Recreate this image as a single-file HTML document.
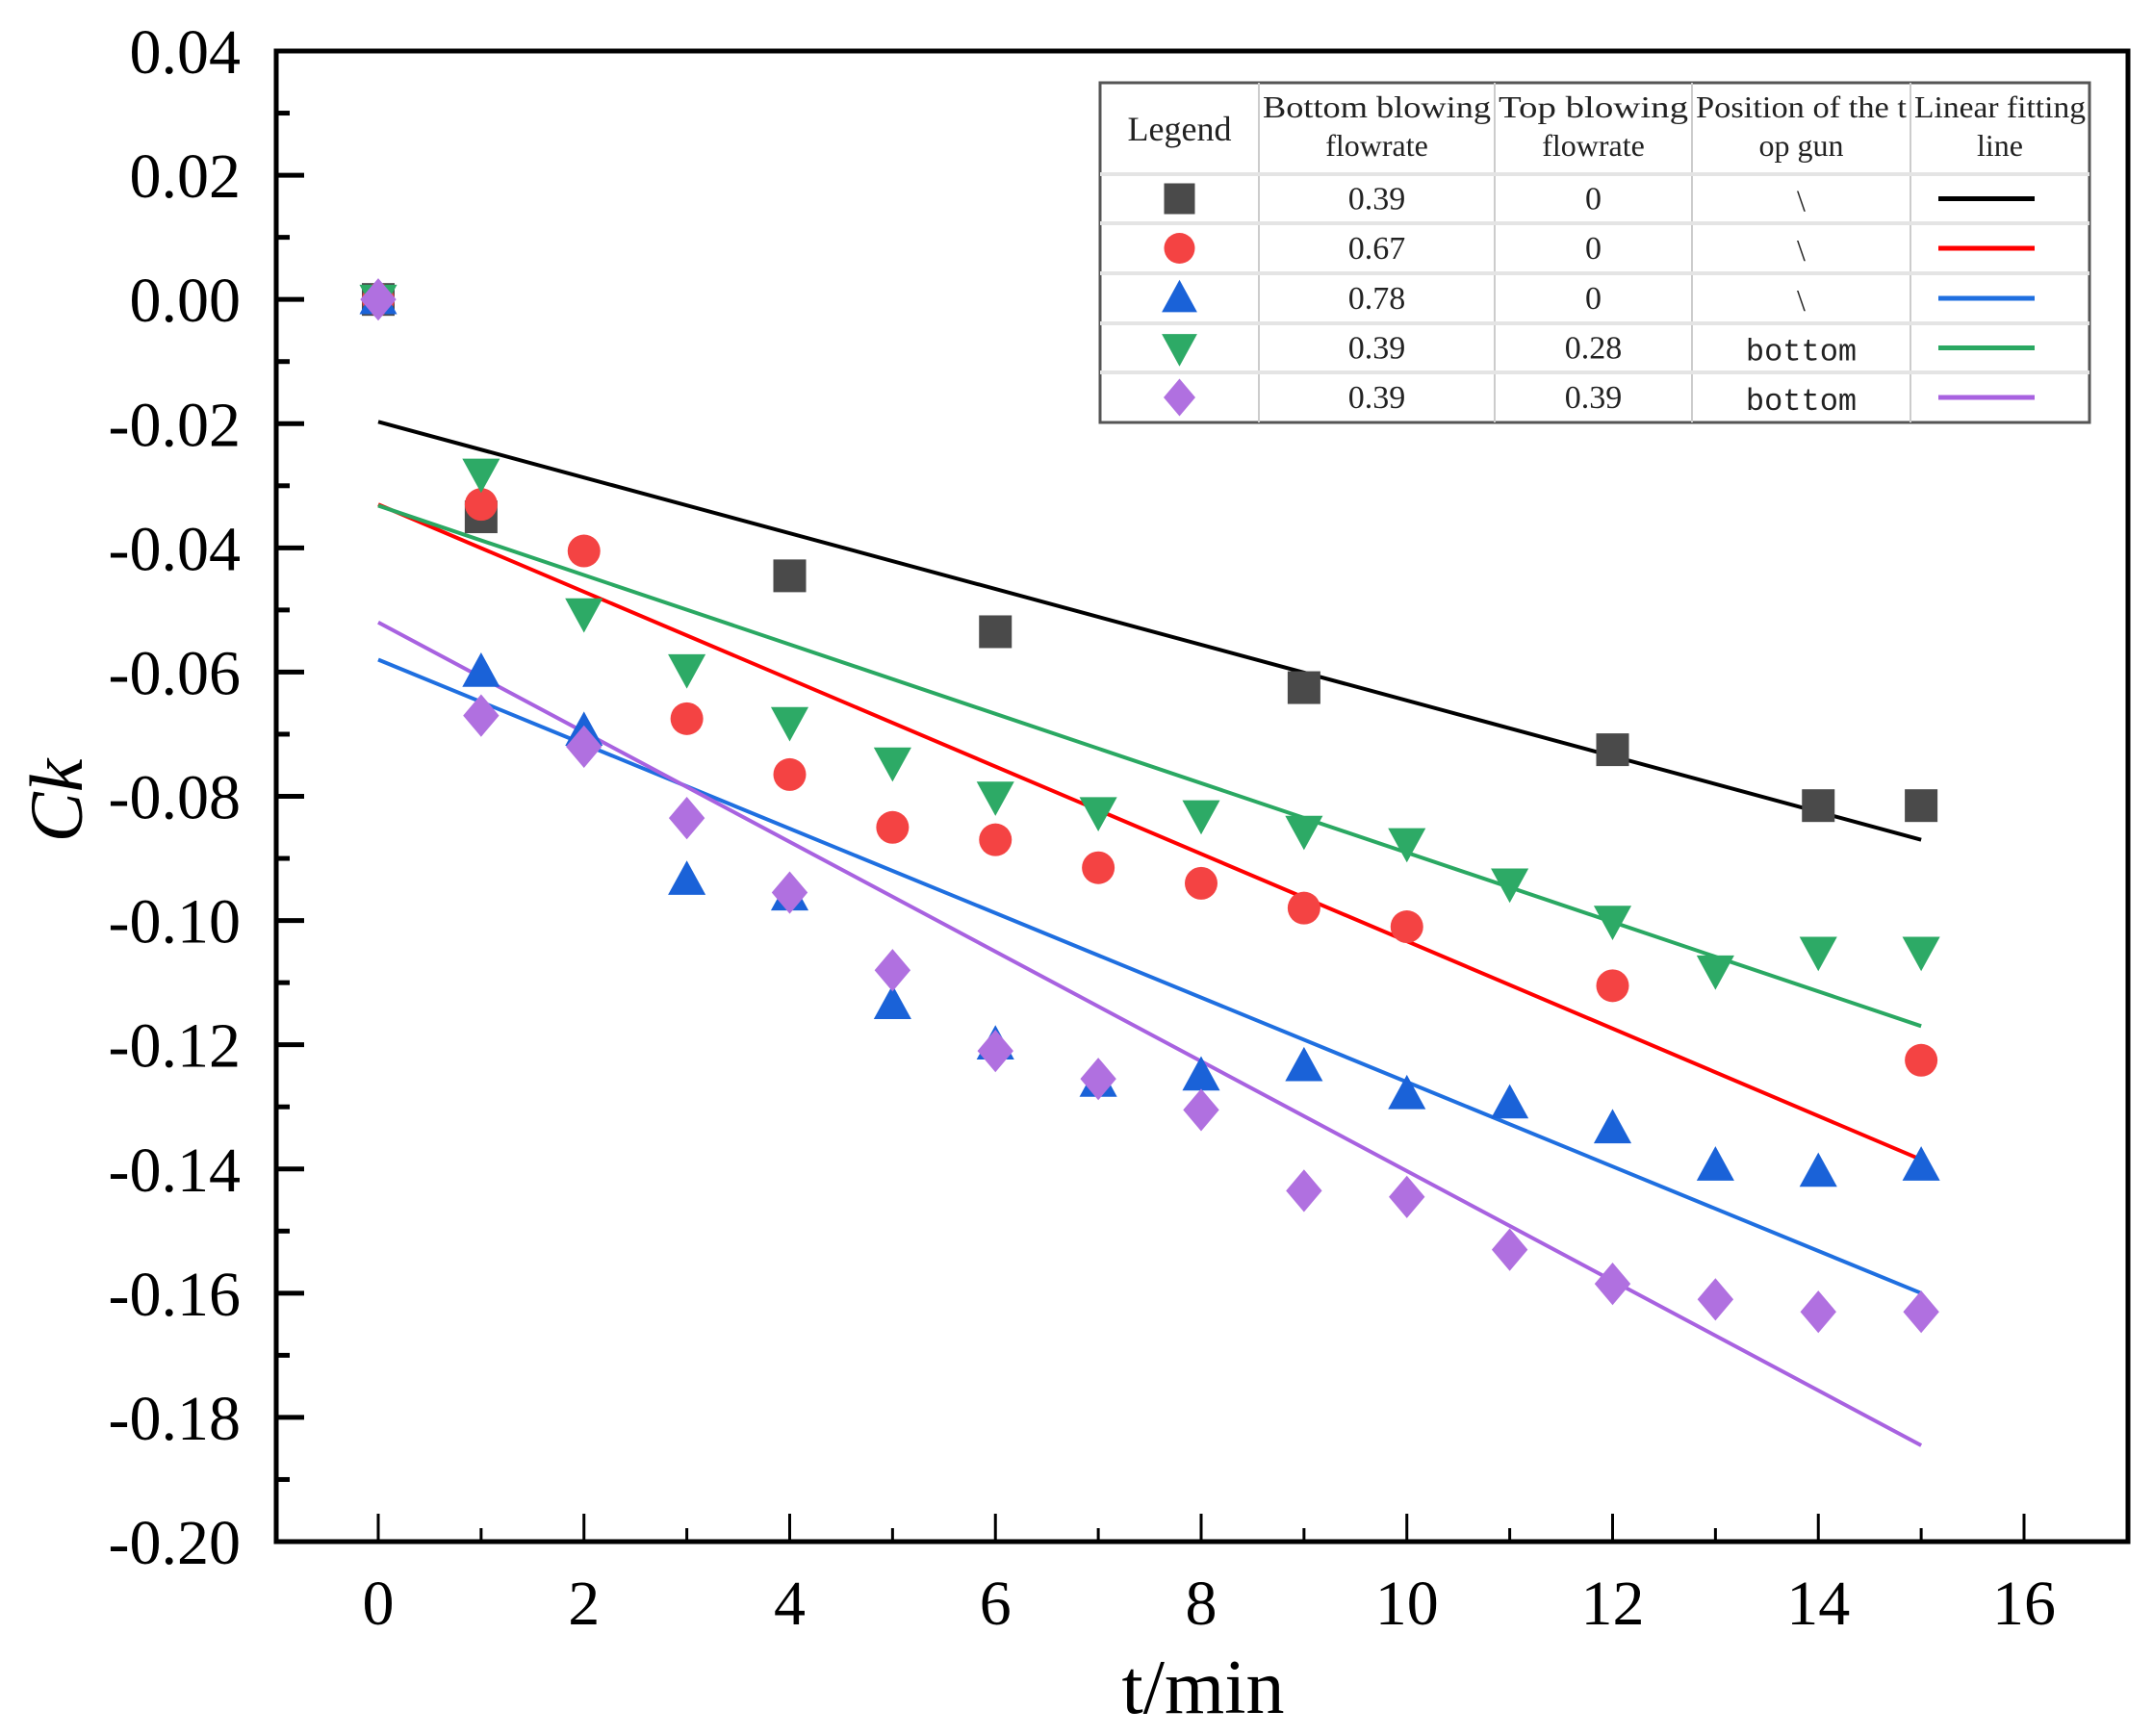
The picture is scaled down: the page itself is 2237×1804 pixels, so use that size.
<!DOCTYPE html>
<html><head><meta charset="utf-8"><style>
html,body{margin:0;padding:0;background:#fff;}
svg{display:block;font-family:"Liberation Serif",serif;}
</style></head><body>
<svg id="chart" width="2237" height="1804" viewBox="0 0 2237 1804" xmlns="http://www.w3.org/2000/svg">
<rect x="0" y="0" width="2237" height="1804" fill="#fff"/>
<g id="grid"></g>
<g id="fits"></g>
<g id="marks"></g>
<g id="legend"></g>
<text x="1250" y="1780" font-size="80" text-anchor="middle">t/min</text>
<text transform="translate(85,832) rotate(-90)" font-size="78" font-style="italic" text-anchor="middle">Ck</text>
</svg>
<script>
const xTicks=[0,2,4,6,8,10,12,14,16];
const yTicks=[0.04,0.02,0.00,-0.02,-0.04,-0.06,-0.08,-0.10,-0.12,-0.14,-0.16,-0.18,-0.20];
const yTickLabels=["0.04","0.02","0.00","-0.02","-0.04","-0.06","-0.08","-0.10","-0.12","-0.14","-0.16","-0.18","-0.20"];
const sqT=[0,1,4,6,9,12,14,15];
const sqV=[0,-0.035,-0.0445,-0.0535,-0.0625,-0.0725,-0.0815,-0.0815];
const ciT=[0,1,2,3,4,5,6,7,8,9,10,12,15];
const ciV=[0,-0.033,-0.0405,-0.0675,-0.0765,-0.085,-0.087,-0.0915,-0.094,-0.098,-0.101,-0.1105,-0.1225];
const upT=[0,1,2,3,4,5,6,7,8,9,10,11,12,13,14,15];
const upV=[0,-0.060,-0.0695,-0.0935,-0.096,-0.1135,-0.120,-0.126,-0.125,-0.1235,-0.128,-0.1295,-0.1335,-0.1395,-0.1405,-0.1395];
const dnT=[0,1,2,3,4,5,6,7,8,9,10,11,12,13,14,15];
const dnV=[0,-0.028,-0.0505,-0.0595,-0.068,-0.0745,-0.080,-0.0825,-0.083,-0.0855,-0.0875,-0.094,-0.100,-0.108,-0.105,-0.105];
const diT=[0,1,2,3,4,5,6,7,8,9,10,11,12,13,14,15];
const diV=[0,-0.067,-0.072,-0.0835,-0.0955,-0.108,-0.121,-0.1255,-0.1305,-0.1435,-0.1445,-0.153,-0.1585,-0.161,-0.163,-0.163];
const fitIntercepts=[-0.0197,-0.033,-0.058,-0.0332,-0.052];
const fitEnds=[-0.087,-0.1385,-0.160,-0.117,-0.1845];
const fitRange=[0,15];
const seriesColors=["#4a4a4a","#f44343","#1a62d8","#2daa66","#b070e0"];
const lineColors=["#000000","#ff0000","#1f6fe0","#2aa862","#a862e0"];
const legBottom=["0.39","0.67","0.78","0.39","0.39"];
const legTop=["0","0","0","0.28","0.39"];
const legPos=["\\","\\","\\","bottom","bottom"];

const NS="http://www.w3.org/2000/svg";
const L=287,R=2211,T=53,B=1602;
const xs=t=>393+(t-0)*(2103-393)/16;
const ys=v=>T+(0.04-v)*(B-T)/0.24;
function mk(tag,attrs,parent){const e=document.createElementNS(NS,tag);for(const k in attrs)e.setAttribute(k,attrs[k]);parent.appendChild(e);return e;}
const ax=document.getElementById('grid');
let e=mk('rect',{x:L,y:T,width:R-L,height:B-T,fill:'none',stroke:'#000','stroke-width':5},ax);


for(let i=0;i<=16;i++){const x=xs(i);const len=i%2===0?29:14;
 e=mk('line',{x1:x,y1:B,x2:x,y2:B-len,stroke:'#000','stroke-width':3},ax);
 
 }
xTicks.forEach(t=>{e=mk('text',{x:xs(t),y:1688,'font-size':66,'text-anchor':'middle'},ax);e.textContent=String(t);
 
 });
for(let i=0;i<=24;i++){const v=0.04-i*0.01;const y=ys(v);const len=i%2===0?29:14;
 e=mk('line',{x1:L,y1:y,x2:L+len,y2:y,stroke:'#000','stroke-width':5},ax);
 
 }
yTicks.forEach((v,i)=>{e=mk('text',{x:250,y:ys(v)+23,'font-size':66,'text-anchor':'end'},ax);e.textContent=yTickLabels[i];
 
 });
const fg=document.getElementById('fits');
fitIntercepts.forEach((b,i)=>{e=mk('line',{x1:xs(fitRange[0]),y1:ys(b),x2:xs(fitRange[1]),y2:ys(fitEnds[i]),stroke:lineColors[i],'stroke-width':4},fg);
 
 });
function marker(kind,cx,cy,col,parent,s){
 s=s||17;let el;
 if(kind===0)el=mk('rect',{x:cx-s,y:cy-s,width:2*s,height:2*s,fill:col},parent);
 else if(kind===1)el=mk('circle',{cx:cx,cy:cy,r:s,fill:col},parent);
 else if(kind===2)el=mk('polygon',{points:`${cx},${cy-s*1.2} ${cx+s*1.15},${cy+s*0.9} ${cx-s*1.15},${cy+s*0.9}`,fill:col},parent);
 else if(kind===3)el=mk('polygon',{points:`${cx},${cy+s*1.2} ${cx+s*1.15},${cy-s*0.9} ${cx-s*1.15},${cy-s*0.9}`,fill:col},parent);
 else el=mk('polygon',{points:`${cx},${cy-s*1.3} ${cx+s*1.1},${cy} ${cx},${cy+s*1.3} ${cx-s*1.1},${cy}`,fill:col},parent);
 return el;}
const mg=document.getElementById('marks');
const sets=[[sqT,sqV],[ciT,ciV],[upT,upV],[dnT,dnV],[diT,diV]];
const names=['square','circle','triangle-up','triangle-down','diamond'];
sets.forEach((s,k)=>{s[0].forEach((t,j)=>{e=marker(k,xs(t),ys(s[1][j]),seriesColors[k],mg);
 
 });});
// legend
const lg=document.getElementById('legend');
const cols=[1143,1308,1553,1758,1985,2171];
const rows=[86,181,232,284,336,387,439];
e=mk('rect',{x:1143,y:86,width:1028,height:353,fill:'#fff',stroke:'#555','stroke-width':3},lg);


for(let i=1;i<5;i++){e=mk('line',{x1:cols[i],y1:86,x2:cols[i],y2:439,stroke:'#ccc','stroke-width':2},lg);
 
 }
for(let i=1;i<6;i++){e=mk('line',{x1:1143,y1:rows[i],x2:2171,y2:rows[i],stroke:'#e4e4e4','stroke-width':4},lg);
 
 }
function txt(x,y,s,str,fam){const el=mk('text',{x:x,y:y,'font-size':s,'text-anchor':'middle','font-family':fam||'"Liberation Serif",serif',fill:'#222'},lg);el.textContent=str;return el;}
const hdr=[["Legend"],["Bottom blowing","flowrate"],["Top blowing","flowrate"],["Position of the t","op gun"],["Linear fitting","line"]];
hdr.forEach((h,i)=>{const cx=(cols[i]+cols[i+1])/2;
 if(h.length===1){e=txt(cx,146,36,h[0]);}
 else{e=txt(cx,122,32,h[0]);e.setAttribute('textLength',cols[i+1]-cols[i]-8);e.setAttribute('lengthAdjust','spacingAndGlyphs');
  
  
  e=txt(cx,162,32,h[1]);}
 
 });
for(let r=0;r<5;r++){const cy=(rows[r+1]+rows[r+2])/2;
 e=marker(r,(cols[0]+cols[1])/2,cy,seriesColors[r],lg,r===4?15:16);
 
 
 e=txt((cols[1]+cols[2])/2,cy+11,34,legBottom[r]);
 
 
 e=txt((cols[2]+cols[3])/2,cy+11,34,legTop[r]);
 
 
 e=txt((cols[3]+cols[4])/2,cy+13,32,legPos[r],legPos[r]==='bottom'?'"Liberation Mono",monospace':undefined);
 
 
 e=mk('line',{x1:2014,y1:cy,x2:2114,y2:cy,stroke:lineColors[r],'stroke-width':5},lg);
 
 }
</script>
</body></html>
